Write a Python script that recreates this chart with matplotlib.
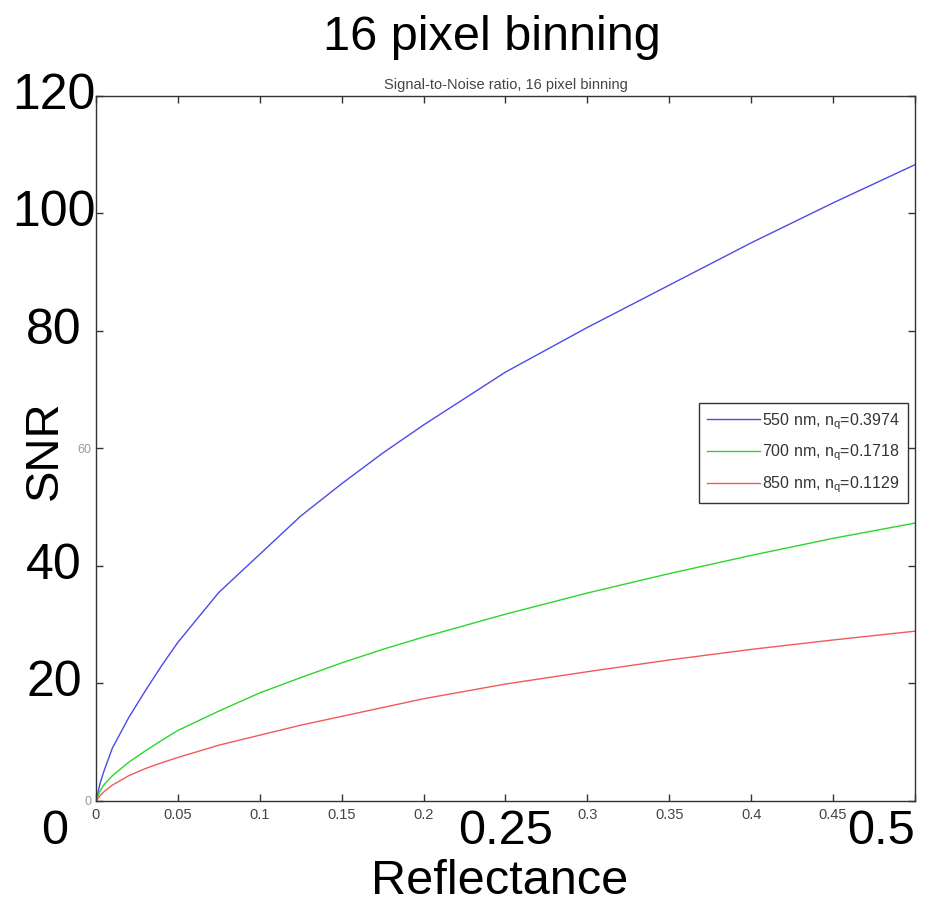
import matplotlib.pyplot as plt
from matplotlib import transforms

plt.rcParams['font.family'] = ['Liberation Sans', 'DejaVu Sans']

reflectance = [0, 0.0025, 0.005, 0.01, 0.02, 0.03, 0.04, 0.05, 0.075, 0.1, 0.125, 0.15,
               0.175, 0.2, 0.25, 0.3, 0.35, 0.4, 0.45, 0.5]
snr_550 = [0, 3.0, 5.2, 9.0, 14.2, 18.7, 23.0, 27.0, 35.5, 42.0, 48.5, 54.0,
           59.2, 64.0, 73.0, 80.6, 87.8, 95.0, 101.8, 108.3]
snr_700 = [0, 1.7, 2.8, 4.3, 6.6, 8.5, 10.3, 12.0, 15.3, 18.4, 21.0, 23.5,
           25.8, 27.9, 31.8, 35.4, 38.7, 41.8, 44.7, 47.3]
snr_850 = [0, 0.9, 1.6, 2.7, 4.3, 5.5, 6.5, 7.4, 9.5, 11.2, 12.9, 14.4,
           15.9, 17.4, 19.9, 22.0, 24.0, 25.8, 27.4, 28.9]

labels = ["550 nm, n$_\\mathregular{q}$=0.3974",
          "700 nm, n$_\\mathregular{q}$=0.1718",
          "850 nm, n$_\\mathregular{q}$=0.1129"]
colors = ['#4b4be8', '#2ed42e', '#f05a5a']

xticks = [0, 0.05, 0.1, 0.15, 0.2, 0.25, 0.3, 0.35, 0.4, 0.45, 0.5]
xtick_small = ['0', '0.05', '0.1', '0.15', '0.2', '', '0.3', '0.35', '0.4', '0.45', '']
yticks = [0, 20, 40, 60, 80, 100, 120]
ytick_small = ['0', '', '', '60', '', '', '']

big_y = ['120', '100', '80', '40', '20']
big_y_vals = [120, 100, 80, 40, 20]
big_x = ['0.25', '0.5']

fig = plt.figure(figsize=(9.42, 9.07), dpi=100)
ax = fig.add_axes([0.1019, 0.1169, 0.8694, 0.7773])

for y, lab, c in zip([snr_550, snr_700, snr_850], labels, colors):
    ax.plot(reflectance, y, color=c, linewidth=1.0, label=lab)

ax.set_xlim(0, 0.5)
ax.set_ylim(0, 120)
ax.set_xticks(xticks)
ax.set_xticklabels(xtick_small, fontsize=10.5, color='#444444')
ax.set_yticks(yticks)
ax.set_yticklabels(ytick_small, fontsize=9, color='#999999')
ax.tick_params(direction='in', length=5, width=1, top=True, right=True, color='#333333', pad=5)
ax.tick_params(axis='y', pad=3)
for s in ax.spines.values():
    s.set_color('#333333')
    s.set_linewidth(1)

ax.set_title("Signal-to-Noise ratio, 16 pixel binning", fontsize=10.5, color='#444444', pad=5)

leg = ax.legend(loc='upper right', bbox_to_anchor=(0.9915, 0.5645), borderaxespad=0,
                fancybox=False, fontsize=11.5, handlelength=3.3, handletextpad=0.15,
                labelspacing=0.7, borderpad=0.5, framealpha=1)
leg.get_frame().set_edgecolor('#333333')
for t in leg.get_texts():
    t.set_color('#333333')

# big overlaid labels
ytrans = transforms.blended_transform_factory(fig.transFigure, ax.transData)
for lab, v in zip(big_y, big_y_vals):
    ax.text(54 / 942, v, lab, transform=ytrans, fontsize=36, ha='center', va='center')
xtrans = transforms.blended_transform_factory(ax.transData, fig.transFigure)
ax.text(0.25, 1 - 832 / 907, big_x[0], transform=xtrans, fontsize=35, ha='center', va='center')
ax.text(0.5, 1 - 832 / 907, big_x[1], transform=xtrans, fontsize=35, ha='right', va='center')
fig.text(55 / 942, 1 - 832 / 907, '0', fontsize=35, ha='center', va='center')

fig.text(500 / 942, 1 - 882 / 907, 'Reflectance', fontsize=35, ha='center', va='center')
fig.text(45 / 942, 1 - 450 / 907, 'SNR', fontsize=34, rotation=90, ha='center', va='center')
fig.text(492 / 942, 1 - 38 / 907, '16 pixel binning', fontsize=35, ha='center', va='center')

fig.savefig('out.png', dpi=100)
